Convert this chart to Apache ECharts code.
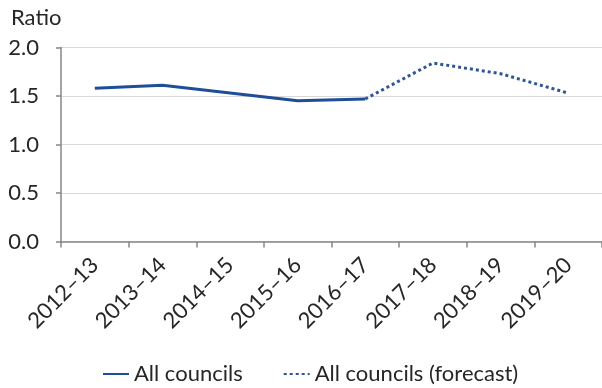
<!DOCTYPE html>
<html><head><meta charset="utf-8">
<script src="https://cdn.jsdelivr.net/npm/echarts@6/dist/echarts.min.js"></script>
<style>html,body{margin:0;padding:0;background:#fff}#c{width:602px;height:388px}</style>
</head><body><div id="c"></div>
<script>
const categories = ['2012–13','2013–14','2014–15','2015–16','2016–17','2017–18','2018–19','2019–20'];
const actual = [1.58, 1.61, 1.53, 1.45, 1.47, null, null, null];
const forecast = [null, null, null, null, 1.47, 1.84, 1.73, 1.53];
const yTicks = [0, 0.5, 1.0, 1.5, 2.0];
const seriesNames = ['All councils', 'All councils (forecast)'];

const FONT = 'Lato';
const chart = echarts.init(document.getElementById('c'), null, {renderer:'canvas'});
chart.setOption({
  animation:false,
  backgroundColor:'#fff',
  textStyle:{fontFamily:FONT},
  title:{text:'Ratio', left:6, top:2, textStyle:{fontFamily:FONT, fontSize:22, fontWeight:'normal', color:'#262626'}},
  grid:{left:61, top:47.5, width:546, height:194, containLabel:false},
  legend:{
    bottom:-2, left:97, itemGap:40, itemWidth:26, itemHeight:12,
    data:seriesNames,
    itemStyle:{opacity:0},
    textStyle:{fontFamily:FONT, fontSize:22, color:'#262626'}
  },
  xAxis:{
    type:'category', data:categories, boundaryGap:true,
    axisLine:{lineStyle:{color:'#868686', width:1.5}},
    axisTick:{show:true, length:6, lineStyle:{color:'#868686', width:1.5}},
    axisLabel:{rotate:45, fontFamily:FONT, fontSize:22, color:'#262626', margin:20, interval:0}
  },
  yAxis:{
    type:'value', min:yTicks[0], max:yTicks[yTicks.length-1], interval:0.5,
    axisLine:{show:true, lineStyle:{color:'#868686', width:1.5}},
    axisTick:{show:true, length:5, lineStyle:{color:'#868686', width:1.5}},
    splitLine:{lineStyle:{color:'#d9d9d9', width:1}},
    axisLabel:{fontFamily:FONT, fontSize:22, color:'#262626', margin:22, formatter:v=>v.toFixed(1)}
  },
  series:[
    {name:seriesNames[0], type:'line', data:actual, symbol:'none', showSymbol:false,
     lineStyle:{color:'#1f4e99', width:3}, itemStyle:{color:'#1f4e99'}},
    {name:seriesNames[1], type:'line', data:forecast, symbol:'none', showSymbol:false,
     lineStyle:{color:'#2f5597', width:3, type:[3,3]}, itemStyle:{color:'#2f5597'}}
  ]
});
</script></body></html>
